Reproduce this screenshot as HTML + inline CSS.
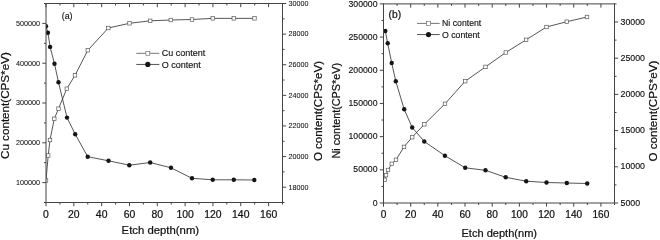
<!DOCTYPE html>
<html><head><meta charset="utf-8"><title>Etch depth profiles</title>
<style>html,body{margin:0;padding:0;background:#fff;}svg{display:block;}text{stroke:#111;stroke-width:0.22px;}text.m{stroke-width:0.14px;}text.s{stroke-width:0.06px;}</style>
</head><body>
<svg width="660" height="240" viewBox="0 0 660 240" font-family='"Liberation Sans", sans-serif' fill="#111">
<rect width="660" height="240" fill="#fff"/>
<clipPath id="clipa"><rect x="46" y="3.5" width="236.5" height="199"/></clipPath>
<g clip-path="url(#clipa)">
<polyline fill="none" stroke="#2a2a2a" stroke-width="0.8" points="46,180.5 48.2,155.5 50,140 54.3,118.8 58.5,108.7 66.8,88.7 75,75.3 87.8,50.3 108.3,28 129.5,23.3 150.2,20.8 170.8,20 192,19.5 212.8,18.35 233.8,18.35 254.5,18.35"/>
<polyline fill="none" stroke="#2a2a2a" stroke-width="0.8" points="46,26.3 47.9,32.7 50.1,46.9 54.5,63.8 58.5,82.3 67,117.6 75.2,134.2 87.7,156.7 108.5,160.8 129.3,165.2 150.2,162.5 171,167.8 192,178.3 212.7,179.8 233.8,179.8 254.3,180"/>
<rect x="44.25" y="178.75" width="3.5" height="3.5" fill="#fff" stroke="#5a5a5a" stroke-width="0.7"/>
<rect x="46.45" y="153.75" width="3.5" height="3.5" fill="#fff" stroke="#5a5a5a" stroke-width="0.7"/>
<rect x="48.25" y="138.25" width="3.5" height="3.5" fill="#fff" stroke="#5a5a5a" stroke-width="0.7"/>
<rect x="52.55" y="117.05" width="3.5" height="3.5" fill="#fff" stroke="#5a5a5a" stroke-width="0.7"/>
<rect x="56.75" y="106.95" width="3.5" height="3.5" fill="#fff" stroke="#5a5a5a" stroke-width="0.7"/>
<rect x="65.05" y="86.95" width="3.5" height="3.5" fill="#fff" stroke="#5a5a5a" stroke-width="0.7"/>
<rect x="73.25" y="73.55" width="3.5" height="3.5" fill="#fff" stroke="#5a5a5a" stroke-width="0.7"/>
<rect x="86.05" y="48.55" width="3.5" height="3.5" fill="#fff" stroke="#5a5a5a" stroke-width="0.7"/>
<rect x="106.55" y="26.25" width="3.5" height="3.5" fill="#fff" stroke="#5a5a5a" stroke-width="0.7"/>
<rect x="127.75" y="21.55" width="3.5" height="3.5" fill="#fff" stroke="#5a5a5a" stroke-width="0.7"/>
<rect x="148.45" y="19.05" width="3.5" height="3.5" fill="#fff" stroke="#5a5a5a" stroke-width="0.7"/>
<rect x="169.05" y="18.25" width="3.5" height="3.5" fill="#fff" stroke="#5a5a5a" stroke-width="0.7"/>
<rect x="190.25" y="17.75" width="3.5" height="3.5" fill="#fff" stroke="#5a5a5a" stroke-width="0.7"/>
<rect x="211.05" y="16.6" width="3.5" height="3.5" fill="#fff" stroke="#5a5a5a" stroke-width="0.7"/>
<rect x="232.05" y="16.6" width="3.5" height="3.5" fill="#fff" stroke="#5a5a5a" stroke-width="0.7"/>
<rect x="252.75" y="16.6" width="3.5" height="3.5" fill="#fff" stroke="#5a5a5a" stroke-width="0.7"/>
<circle cx="46" cy="26.3" r="2.2" fill="#151515"/>
<circle cx="47.9" cy="32.7" r="2.2" fill="#151515"/>
<circle cx="50.1" cy="46.9" r="2.2" fill="#151515"/>
<circle cx="54.5" cy="63.8" r="2.2" fill="#151515"/>
<circle cx="58.5" cy="82.3" r="2.2" fill="#151515"/>
<circle cx="67" cy="117.6" r="2.2" fill="#151515"/>
<circle cx="75.2" cy="134.2" r="2.2" fill="#151515"/>
<circle cx="87.7" cy="156.7" r="2.2" fill="#151515"/>
<circle cx="108.5" cy="160.8" r="2.2" fill="#151515"/>
<circle cx="129.3" cy="165.2" r="2.2" fill="#151515"/>
<circle cx="150.2" cy="162.5" r="2.2" fill="#151515"/>
<circle cx="171" cy="167.8" r="2.2" fill="#151515"/>
<circle cx="192" cy="178.3" r="2.2" fill="#151515"/>
<circle cx="212.7" cy="179.8" r="2.2" fill="#151515"/>
<circle cx="233.8" cy="179.8" r="2.2" fill="#151515"/>
<circle cx="254.3" cy="180" r="2.2" fill="#151515"/>
</g>
<line x1="46" y1="3.5" x2="282.5" y2="3.5" stroke="#444" stroke-width="1.0"/>
<line x1="46" y1="202.5" x2="282.5" y2="202.5" stroke="#444" stroke-width="1.0"/>
<line x1="46" y1="3.1" x2="46" y2="202.9" stroke="#444" stroke-width="1.0"/>
<line x1="282.5" y1="3.1" x2="282.5" y2="202.9" stroke="#444" stroke-width="1.0"/>
<line x1="46" y1="202.5" x2="46" y2="206.2" stroke="#444" stroke-width="1.0"/>
<line x1="46" y1="3.5" x2="46" y2="7.2" stroke="#444" stroke-width="1.0"/>
<text x="46" y="217.6" font-size="10.4" text-anchor="middle">0</text>
<line x1="59.91" y1="202.5" x2="59.91" y2="204.5" stroke="#444" stroke-width="1.0"/>
<line x1="59.91" y1="3.5" x2="59.91" y2="5.5" stroke="#444" stroke-width="1.0"/>
<line x1="73.82" y1="202.5" x2="73.82" y2="206.2" stroke="#444" stroke-width="1.0"/>
<line x1="73.82" y1="3.5" x2="73.82" y2="7.2" stroke="#444" stroke-width="1.0"/>
<text x="73.82" y="217.6" font-size="10.4" text-anchor="middle">20</text>
<line x1="87.74" y1="202.5" x2="87.74" y2="204.5" stroke="#444" stroke-width="1.0"/>
<line x1="87.74" y1="3.5" x2="87.74" y2="5.5" stroke="#444" stroke-width="1.0"/>
<line x1="101.65" y1="202.5" x2="101.65" y2="206.2" stroke="#444" stroke-width="1.0"/>
<line x1="101.65" y1="3.5" x2="101.65" y2="7.2" stroke="#444" stroke-width="1.0"/>
<text x="101.65" y="217.6" font-size="10.4" text-anchor="middle">40</text>
<line x1="115.56" y1="202.5" x2="115.56" y2="204.5" stroke="#444" stroke-width="1.0"/>
<line x1="115.56" y1="3.5" x2="115.56" y2="5.5" stroke="#444" stroke-width="1.0"/>
<line x1="129.47" y1="202.5" x2="129.47" y2="206.2" stroke="#444" stroke-width="1.0"/>
<line x1="129.47" y1="3.5" x2="129.47" y2="7.2" stroke="#444" stroke-width="1.0"/>
<text x="129.47" y="217.6" font-size="10.4" text-anchor="middle">60</text>
<line x1="143.38" y1="202.5" x2="143.38" y2="204.5" stroke="#444" stroke-width="1.0"/>
<line x1="143.38" y1="3.5" x2="143.38" y2="5.5" stroke="#444" stroke-width="1.0"/>
<line x1="157.29" y1="202.5" x2="157.29" y2="206.2" stroke="#444" stroke-width="1.0"/>
<line x1="157.29" y1="3.5" x2="157.29" y2="7.2" stroke="#444" stroke-width="1.0"/>
<text x="157.29" y="217.6" font-size="10.4" text-anchor="middle">80</text>
<line x1="171.21" y1="202.5" x2="171.21" y2="204.5" stroke="#444" stroke-width="1.0"/>
<line x1="171.21" y1="3.5" x2="171.21" y2="5.5" stroke="#444" stroke-width="1.0"/>
<line x1="185.12" y1="202.5" x2="185.12" y2="206.2" stroke="#444" stroke-width="1.0"/>
<line x1="185.12" y1="3.5" x2="185.12" y2="7.2" stroke="#444" stroke-width="1.0"/>
<text x="185.12" y="217.6" font-size="10.4" text-anchor="middle">100</text>
<line x1="199.03" y1="202.5" x2="199.03" y2="204.5" stroke="#444" stroke-width="1.0"/>
<line x1="199.03" y1="3.5" x2="199.03" y2="5.5" stroke="#444" stroke-width="1.0"/>
<line x1="212.94" y1="202.5" x2="212.94" y2="206.2" stroke="#444" stroke-width="1.0"/>
<line x1="212.94" y1="3.5" x2="212.94" y2="7.2" stroke="#444" stroke-width="1.0"/>
<text x="212.94" y="217.6" font-size="10.4" text-anchor="middle">120</text>
<line x1="226.85" y1="202.5" x2="226.85" y2="204.5" stroke="#444" stroke-width="1.0"/>
<line x1="226.85" y1="3.5" x2="226.85" y2="5.5" stroke="#444" stroke-width="1.0"/>
<line x1="240.76" y1="202.5" x2="240.76" y2="206.2" stroke="#444" stroke-width="1.0"/>
<line x1="240.76" y1="3.5" x2="240.76" y2="7.2" stroke="#444" stroke-width="1.0"/>
<text x="240.76" y="217.6" font-size="10.4" text-anchor="middle">140</text>
<line x1="254.68" y1="202.5" x2="254.68" y2="204.5" stroke="#444" stroke-width="1.0"/>
<line x1="254.68" y1="3.5" x2="254.68" y2="5.5" stroke="#444" stroke-width="1.0"/>
<line x1="268.59" y1="202.5" x2="268.59" y2="206.2" stroke="#444" stroke-width="1.0"/>
<line x1="268.59" y1="3.5" x2="268.59" y2="7.2" stroke="#444" stroke-width="1.0"/>
<text x="268.59" y="217.6" font-size="10.4" text-anchor="middle">160</text>
<line x1="282.5" y1="202.5" x2="282.5" y2="204.5" stroke="#444" stroke-width="1.0"/>
<line x1="282.5" y1="3.5" x2="282.5" y2="5.5" stroke="#444" stroke-width="1.0"/>
<line x1="44" y1="202.5" x2="46" y2="202.5" stroke="#444" stroke-width="1.0"/>
<line x1="42.3" y1="182.6" x2="46" y2="182.6" stroke="#444" stroke-width="1.0"/>
<text x="40.1" y="184.9" font-size="7.2" class="s" text-anchor="end">100000</text>
<line x1="44" y1="162.7" x2="46" y2="162.7" stroke="#444" stroke-width="1.0"/>
<line x1="42.3" y1="142.8" x2="46" y2="142.8" stroke="#444" stroke-width="1.0"/>
<text x="40.1" y="145.1" font-size="7.2" class="s" text-anchor="end">200000</text>
<line x1="44" y1="122.9" x2="46" y2="122.9" stroke="#444" stroke-width="1.0"/>
<line x1="42.3" y1="103" x2="46" y2="103" stroke="#444" stroke-width="1.0"/>
<text x="40.1" y="105.3" font-size="7.2" class="s" text-anchor="end">300000</text>
<line x1="44" y1="83.1" x2="46" y2="83.1" stroke="#444" stroke-width="1.0"/>
<line x1="42.3" y1="63.2" x2="46" y2="63.2" stroke="#444" stroke-width="1.0"/>
<text x="40.1" y="65.5" font-size="7.2" class="s" text-anchor="end">400000</text>
<line x1="44" y1="43.3" x2="46" y2="43.3" stroke="#444" stroke-width="1.0"/>
<line x1="42.3" y1="23.4" x2="46" y2="23.4" stroke="#444" stroke-width="1.0"/>
<text x="40.1" y="25.7" font-size="7.2" class="s" text-anchor="end">500000</text>
<line x1="44" y1="3.5" x2="46" y2="3.5" stroke="#444" stroke-width="1.0"/>
<line x1="282.5" y1="202.5" x2="284.5" y2="202.5" stroke="#444" stroke-width="1.0"/>
<line x1="282.5" y1="187.19" x2="286.2" y2="187.19" stroke="#444" stroke-width="1.0"/>
<text x="288.4" y="189.5" font-size="7.2" class="s" text-anchor="start">18000</text>
<line x1="282.5" y1="171.88" x2="284.5" y2="171.88" stroke="#444" stroke-width="1.0"/>
<line x1="282.5" y1="156.58" x2="286.2" y2="156.58" stroke="#444" stroke-width="1.0"/>
<text x="288.4" y="158.88" font-size="7.2" class="s" text-anchor="start">20000</text>
<line x1="282.5" y1="141.27" x2="284.5" y2="141.27" stroke="#444" stroke-width="1.0"/>
<line x1="282.5" y1="125.96" x2="286.2" y2="125.96" stroke="#444" stroke-width="1.0"/>
<text x="288.4" y="128.27" font-size="7.2" class="s" text-anchor="start">22000</text>
<line x1="282.5" y1="110.65" x2="284.5" y2="110.65" stroke="#444" stroke-width="1.0"/>
<line x1="282.5" y1="95.35" x2="286.2" y2="95.35" stroke="#444" stroke-width="1.0"/>
<text x="288.4" y="97.65" font-size="7.2" class="s" text-anchor="start">24000</text>
<line x1="282.5" y1="80.04" x2="284.5" y2="80.04" stroke="#444" stroke-width="1.0"/>
<line x1="282.5" y1="64.73" x2="286.2" y2="64.73" stroke="#444" stroke-width="1.0"/>
<text x="288.4" y="67.03" font-size="7.2" class="s" text-anchor="start">26000</text>
<line x1="282.5" y1="49.42" x2="284.5" y2="49.42" stroke="#444" stroke-width="1.0"/>
<line x1="282.5" y1="34.12" x2="286.2" y2="34.12" stroke="#444" stroke-width="1.0"/>
<text x="288.4" y="36.42" font-size="7.2" class="s" text-anchor="start">28000</text>
<line x1="282.5" y1="18.81" x2="284.5" y2="18.81" stroke="#444" stroke-width="1.0"/>
<line x1="282.5" y1="3.5" x2="286.2" y2="3.5" stroke="#444" stroke-width="1.0"/>
<text x="288.4" y="5.8" font-size="7.2" class="s" text-anchor="start">30000</text>
<text x="121.6" y="233.8" font-size="11.35" text-anchor="start">Etch depth(nm)</text>
<text x="9.3" y="159" font-size="11.65" text-anchor="start" transform="rotate(-90 9.3 159)">Cu content(CPS*eV)</text>
<text x="321.8" y="161.1" font-size="11.55" text-anchor="start" transform="rotate(-90 321.8 161.1)">O content(CPS*eV)</text>
<text x="61.7" y="19.2" font-size="8.9" class="m" text-anchor="start">(a)</text>
<line x1="136.3" y1="53.3" x2="159.3" y2="53.3" stroke="#555" stroke-width="0.8"/>
<rect x="145.85" y="51.35" width="3.9" height="3.9" fill="#fff" stroke="#6a6a6a" stroke-width="0.65"/>
<text x="161.7" y="56.44" font-size="9" class="m" text-anchor="start">Cu content</text>
<line x1="136.3" y1="64.45" x2="159.3" y2="64.45" stroke="#2a2a2a" stroke-width="0.8"/>
<circle cx="147.8" cy="64.45" r="2.6" fill="#151515"/>
<text x="161.7" y="67.59" font-size="9" class="m" text-anchor="start">O content</text>
<clipPath id="clipb"><rect x="383.5" y="3.9" width="231" height="199.1"/></clipPath>
<g clip-path="url(#clipb)">
<polyline fill="none" stroke="#2a2a2a" stroke-width="0.8" points="384.6,179.8 386,175.2 388,170 391.8,163.8 396,159.8 404,146.9 412.2,137.2 424.3,124.3 445,103.8 465.2,81.2 485.5,66.9 505.8,52.5 526.1,39.8 546.5,27 566.8,21.7 587,17"/>
<polyline fill="none" stroke="#2a2a2a" stroke-width="0.8" points="385.3,31 387.7,43.3 391.7,63 395.8,81.3 404.2,109.3 412.2,127.5 424.3,141.5 444.9,155.7 465.2,167.8 485.5,170.3 505.7,177.3 526.2,181.2 546.5,182.5 566.8,183 587.2,183.5"/>
<rect x="382.85" y="178.05" width="3.5" height="3.5" fill="#fff" stroke="#5a5a5a" stroke-width="0.7"/>
<rect x="384.25" y="173.45" width="3.5" height="3.5" fill="#fff" stroke="#5a5a5a" stroke-width="0.7"/>
<rect x="386.25" y="168.25" width="3.5" height="3.5" fill="#fff" stroke="#5a5a5a" stroke-width="0.7"/>
<rect x="390.05" y="162.05" width="3.5" height="3.5" fill="#fff" stroke="#5a5a5a" stroke-width="0.7"/>
<rect x="394.25" y="158.05" width="3.5" height="3.5" fill="#fff" stroke="#5a5a5a" stroke-width="0.7"/>
<rect x="402.25" y="145.15" width="3.5" height="3.5" fill="#fff" stroke="#5a5a5a" stroke-width="0.7"/>
<rect x="410.45" y="135.45" width="3.5" height="3.5" fill="#fff" stroke="#5a5a5a" stroke-width="0.7"/>
<rect x="422.55" y="122.55" width="3.5" height="3.5" fill="#fff" stroke="#5a5a5a" stroke-width="0.7"/>
<rect x="443.25" y="102.05" width="3.5" height="3.5" fill="#fff" stroke="#5a5a5a" stroke-width="0.7"/>
<rect x="463.45" y="79.45" width="3.5" height="3.5" fill="#fff" stroke="#5a5a5a" stroke-width="0.7"/>
<rect x="483.75" y="65.15" width="3.5" height="3.5" fill="#fff" stroke="#5a5a5a" stroke-width="0.7"/>
<rect x="504.05" y="50.75" width="3.5" height="3.5" fill="#fff" stroke="#5a5a5a" stroke-width="0.7"/>
<rect x="524.35" y="38.05" width="3.5" height="3.5" fill="#fff" stroke="#5a5a5a" stroke-width="0.7"/>
<rect x="544.75" y="25.25" width="3.5" height="3.5" fill="#fff" stroke="#5a5a5a" stroke-width="0.7"/>
<rect x="565.05" y="19.95" width="3.5" height="3.5" fill="#fff" stroke="#5a5a5a" stroke-width="0.7"/>
<rect x="585.25" y="15.25" width="3.5" height="3.5" fill="#fff" stroke="#5a5a5a" stroke-width="0.7"/>
<circle cx="385.3" cy="31" r="2.2" fill="#151515"/>
<circle cx="387.7" cy="43.3" r="2.2" fill="#151515"/>
<circle cx="391.7" cy="63" r="2.2" fill="#151515"/>
<circle cx="395.8" cy="81.3" r="2.2" fill="#151515"/>
<circle cx="404.2" cy="109.3" r="2.2" fill="#151515"/>
<circle cx="412.2" cy="127.5" r="2.2" fill="#151515"/>
<circle cx="424.3" cy="141.5" r="2.2" fill="#151515"/>
<circle cx="444.9" cy="155.7" r="2.2" fill="#151515"/>
<circle cx="465.2" cy="167.8" r="2.2" fill="#151515"/>
<circle cx="485.5" cy="170.3" r="2.2" fill="#151515"/>
<circle cx="505.7" cy="177.3" r="2.2" fill="#151515"/>
<circle cx="526.2" cy="181.2" r="2.2" fill="#151515"/>
<circle cx="546.5" cy="182.5" r="2.2" fill="#151515"/>
<circle cx="566.8" cy="183" r="2.2" fill="#151515"/>
<circle cx="587.2" cy="183.5" r="2.2" fill="#151515"/>
</g>
<line x1="383.5" y1="3.9" x2="614.5" y2="3.9" stroke="#444" stroke-width="1.0"/>
<line x1="383.5" y1="203" x2="614.5" y2="203" stroke="#444" stroke-width="1.0"/>
<line x1="383.5" y1="3.5" x2="383.5" y2="203.4" stroke="#444" stroke-width="1.0"/>
<line x1="614.5" y1="3.5" x2="614.5" y2="203.4" stroke="#444" stroke-width="1.0"/>
<line x1="383.5" y1="203" x2="383.5" y2="206.7" stroke="#444" stroke-width="1.0"/>
<line x1="383.5" y1="3.9" x2="383.5" y2="7.6" stroke="#444" stroke-width="1.0"/>
<text x="383.5" y="218" font-size="10.1" text-anchor="middle">0</text>
<line x1="397.09" y1="203" x2="397.09" y2="205" stroke="#444" stroke-width="1.0"/>
<line x1="397.09" y1="3.9" x2="397.09" y2="5.9" stroke="#444" stroke-width="1.0"/>
<line x1="410.68" y1="203" x2="410.68" y2="206.7" stroke="#444" stroke-width="1.0"/>
<line x1="410.68" y1="3.9" x2="410.68" y2="7.6" stroke="#444" stroke-width="1.0"/>
<text x="410.68" y="218" font-size="10.1" text-anchor="middle">20</text>
<line x1="424.26" y1="203" x2="424.26" y2="205" stroke="#444" stroke-width="1.0"/>
<line x1="424.26" y1="3.9" x2="424.26" y2="5.9" stroke="#444" stroke-width="1.0"/>
<line x1="437.85" y1="203" x2="437.85" y2="206.7" stroke="#444" stroke-width="1.0"/>
<line x1="437.85" y1="3.9" x2="437.85" y2="7.6" stroke="#444" stroke-width="1.0"/>
<text x="437.85" y="218" font-size="10.1" text-anchor="middle">40</text>
<line x1="451.44" y1="203" x2="451.44" y2="205" stroke="#444" stroke-width="1.0"/>
<line x1="451.44" y1="3.9" x2="451.44" y2="5.9" stroke="#444" stroke-width="1.0"/>
<line x1="465.03" y1="203" x2="465.03" y2="206.7" stroke="#444" stroke-width="1.0"/>
<line x1="465.03" y1="3.9" x2="465.03" y2="7.6" stroke="#444" stroke-width="1.0"/>
<text x="465.03" y="218" font-size="10.1" text-anchor="middle">60</text>
<line x1="478.62" y1="203" x2="478.62" y2="205" stroke="#444" stroke-width="1.0"/>
<line x1="478.62" y1="3.9" x2="478.62" y2="5.9" stroke="#444" stroke-width="1.0"/>
<line x1="492.21" y1="203" x2="492.21" y2="206.7" stroke="#444" stroke-width="1.0"/>
<line x1="492.21" y1="3.9" x2="492.21" y2="7.6" stroke="#444" stroke-width="1.0"/>
<text x="492.21" y="218" font-size="10.1" text-anchor="middle">80</text>
<line x1="505.79" y1="203" x2="505.79" y2="205" stroke="#444" stroke-width="1.0"/>
<line x1="505.79" y1="3.9" x2="505.79" y2="5.9" stroke="#444" stroke-width="1.0"/>
<line x1="519.38" y1="203" x2="519.38" y2="206.7" stroke="#444" stroke-width="1.0"/>
<line x1="519.38" y1="3.9" x2="519.38" y2="7.6" stroke="#444" stroke-width="1.0"/>
<text x="519.38" y="218" font-size="10.1" text-anchor="middle">100</text>
<line x1="532.97" y1="203" x2="532.97" y2="205" stroke="#444" stroke-width="1.0"/>
<line x1="532.97" y1="3.9" x2="532.97" y2="5.9" stroke="#444" stroke-width="1.0"/>
<line x1="546.56" y1="203" x2="546.56" y2="206.7" stroke="#444" stroke-width="1.0"/>
<line x1="546.56" y1="3.9" x2="546.56" y2="7.6" stroke="#444" stroke-width="1.0"/>
<text x="546.56" y="218" font-size="10.1" text-anchor="middle">120</text>
<line x1="560.15" y1="203" x2="560.15" y2="205" stroke="#444" stroke-width="1.0"/>
<line x1="560.15" y1="3.9" x2="560.15" y2="5.9" stroke="#444" stroke-width="1.0"/>
<line x1="573.74" y1="203" x2="573.74" y2="206.7" stroke="#444" stroke-width="1.0"/>
<line x1="573.74" y1="3.9" x2="573.74" y2="7.6" stroke="#444" stroke-width="1.0"/>
<text x="573.74" y="218" font-size="10.1" text-anchor="middle">140</text>
<line x1="587.32" y1="203" x2="587.32" y2="205" stroke="#444" stroke-width="1.0"/>
<line x1="587.32" y1="3.9" x2="587.32" y2="5.9" stroke="#444" stroke-width="1.0"/>
<line x1="600.91" y1="203" x2="600.91" y2="206.7" stroke="#444" stroke-width="1.0"/>
<line x1="600.91" y1="3.9" x2="600.91" y2="7.6" stroke="#444" stroke-width="1.0"/>
<text x="600.91" y="218" font-size="10.1" text-anchor="middle">160</text>
<line x1="614.5" y1="203" x2="614.5" y2="205" stroke="#444" stroke-width="1.0"/>
<line x1="614.5" y1="3.9" x2="614.5" y2="5.9" stroke="#444" stroke-width="1.0"/>
<line x1="379.8" y1="203" x2="383.5" y2="203" stroke="#444" stroke-width="1.0"/>
<text x="377.5" y="205.61" font-size="8.7" class="m" text-anchor="end">0</text>
<line x1="381.5" y1="186.41" x2="383.5" y2="186.41" stroke="#444" stroke-width="1.0"/>
<line x1="379.8" y1="169.82" x2="383.5" y2="169.82" stroke="#444" stroke-width="1.0"/>
<text x="377.5" y="172.43" font-size="8.7" class="m" text-anchor="end">50000</text>
<line x1="381.5" y1="153.22" x2="383.5" y2="153.22" stroke="#444" stroke-width="1.0"/>
<line x1="379.8" y1="136.63" x2="383.5" y2="136.63" stroke="#444" stroke-width="1.0"/>
<text x="377.5" y="139.24" font-size="8.7" class="m" text-anchor="end">100000</text>
<line x1="381.5" y1="120.04" x2="383.5" y2="120.04" stroke="#444" stroke-width="1.0"/>
<line x1="379.8" y1="103.45" x2="383.5" y2="103.45" stroke="#444" stroke-width="1.0"/>
<text x="377.5" y="106.06" font-size="8.7" class="m" text-anchor="end">150000</text>
<line x1="381.5" y1="86.86" x2="383.5" y2="86.86" stroke="#444" stroke-width="1.0"/>
<line x1="379.8" y1="70.27" x2="383.5" y2="70.27" stroke="#444" stroke-width="1.0"/>
<text x="377.5" y="72.88" font-size="8.7" class="m" text-anchor="end">200000</text>
<line x1="381.5" y1="53.68" x2="383.5" y2="53.68" stroke="#444" stroke-width="1.0"/>
<line x1="379.8" y1="37.08" x2="383.5" y2="37.08" stroke="#444" stroke-width="1.0"/>
<text x="377.5" y="39.69" font-size="8.7" class="m" text-anchor="end">250000</text>
<line x1="381.5" y1="20.49" x2="383.5" y2="20.49" stroke="#444" stroke-width="1.0"/>
<line x1="379.8" y1="3.9" x2="383.5" y2="3.9" stroke="#444" stroke-width="1.0"/>
<text x="377.5" y="6.51" font-size="8.7" class="m" text-anchor="end">300000</text>
<line x1="614.5" y1="203" x2="618.2" y2="203" stroke="#444" stroke-width="1.0"/>
<text x="620.5" y="205.64" font-size="8.8" class="m" text-anchor="start">5000</text>
<line x1="614.5" y1="184.9" x2="616.5" y2="184.9" stroke="#444" stroke-width="1.0"/>
<line x1="614.5" y1="166.8" x2="618.2" y2="166.8" stroke="#444" stroke-width="1.0"/>
<text x="620.5" y="169.44" font-size="8.8" class="m" text-anchor="start">10000</text>
<line x1="614.5" y1="148.7" x2="616.5" y2="148.7" stroke="#444" stroke-width="1.0"/>
<line x1="614.5" y1="130.6" x2="618.2" y2="130.6" stroke="#444" stroke-width="1.0"/>
<text x="620.5" y="133.24" font-size="8.8" class="m" text-anchor="start">15000</text>
<line x1="614.5" y1="112.5" x2="616.5" y2="112.5" stroke="#444" stroke-width="1.0"/>
<line x1="614.5" y1="94.4" x2="618.2" y2="94.4" stroke="#444" stroke-width="1.0"/>
<text x="620.5" y="97.04" font-size="8.8" class="m" text-anchor="start">20000</text>
<line x1="614.5" y1="76.3" x2="616.5" y2="76.3" stroke="#444" stroke-width="1.0"/>
<line x1="614.5" y1="58.2" x2="618.2" y2="58.2" stroke="#444" stroke-width="1.0"/>
<text x="620.5" y="60.84" font-size="8.8" class="m" text-anchor="start">25000</text>
<line x1="614.5" y1="40.1" x2="616.5" y2="40.1" stroke="#444" stroke-width="1.0"/>
<line x1="614.5" y1="22" x2="618.2" y2="22" stroke="#444" stroke-width="1.0"/>
<text x="620.5" y="24.64" font-size="8.8" class="m" text-anchor="start">30000</text>
<line x1="614.5" y1="3.9" x2="616.5" y2="3.9" stroke="#444" stroke-width="1.0"/>
<text x="461.5" y="237.1" font-size="11.05" text-anchor="start">Etch depth(nm)</text>
<text x="339.9" y="158.5" font-size="10.82" text-anchor="start" transform="rotate(-90 339.9 158.5)">Ni content(CPS*eV)</text>
<text x="656.7" y="161.5" font-size="11.64" text-anchor="start" transform="rotate(-90 656.7 161.5)">O content(CPS*eV)</text>
<text x="388.5" y="18.3" font-size="10.3" text-anchor="start">(b)</text>
<line x1="417" y1="23.4" x2="439.7" y2="23.4" stroke="#555" stroke-width="0.8"/>
<rect x="426.55" y="21.45" width="3.9" height="3.9" fill="#fff" stroke="#6a6a6a" stroke-width="0.65"/>
<text x="442.1" y="26.43" font-size="8.7" class="m" text-anchor="start">Ni content</text>
<line x1="417" y1="34.55" x2="439.7" y2="34.55" stroke="#2a2a2a" stroke-width="0.8"/>
<circle cx="428.5" cy="34.55" r="2.6" fill="#151515"/>
<text x="442.1" y="37.58" font-size="8.7" class="m" text-anchor="start">O content</text>
</svg>
</body></html>
